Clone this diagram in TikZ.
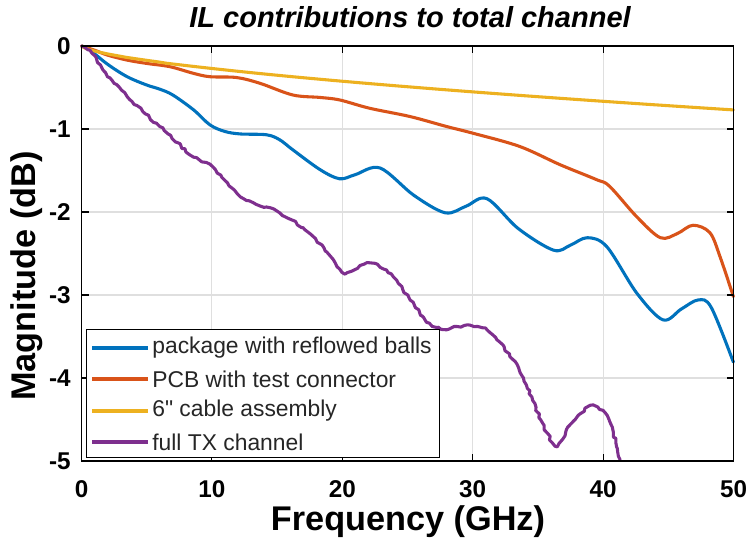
\documentclass[tikz,border=0pt]{standalone}
\usepackage{fontspec}
\setmainfont{Liberation Sans}
\newfontfamily\rawsans{Liberation Sans}
\usetikzlibrary{decorations.pathmorphing}
\definecolor{mblue}{RGB}{0,114,189}
\definecolor{morange}{RGB}{217,83,25}
\definecolor{myellow}{RGB}{237,177,32}
\definecolor{mpurple}{RGB}{126,47,142}
\definecolor{gridgray}{RGB}{223,223,223}
\definecolor{legtext}{RGB}{38,38,38}
\begin{document}
\begin{tikzpicture}[x=0.02cm,y=-0.02cm,
  curve/.style={line width=1.75pt, line join=round, line cap=round},
  ticklab/.style={font=\fontsize{13.8}{15}\selectfont\bfseries, text=black, inner sep=0pt},
  axlab/.style={font=\fontsize{19.5}{21}\selectfont\bfseries, text=black, inner sep=0pt},
  leglab/.style={font=\rawsans\fontsize{13}{15}\selectfont, text=legtext, anchor=west, inner sep=0pt},
  gridline/.style={draw=gridgray, line width=0.6pt},
  tickmark/.style={draw=black, line width=0.6pt}]
\useasboundingbox (0,0) rectangle (749,542);
\fill[white] (0,0) rectangle (749,542);
% grid
\foreach \i in {1,...,4} {
  \draw[gridline] ({81.5+130.4*\i},46) -- ({81.5+130.4*\i},461);
  \draw[gridline] (81.5,{46+83*\i}) -- (733.5,{46+83*\i});
}
% curves
\begin{scope}[shift={(81.5,46)},x=0.2608cm,y=1.66cm]
\clip (-0.4,0.08) rectangle (50.4,-5);
\draw[curve,mblue] plot[smooth,tension=0.55] coordinates {(0,0) (0.65,-0.05) (2,-0.22) (3.5,-0.37) (5,-0.47) (6,-0.52) (7,-0.59) (8.6,-0.77) (9.85,-0.95) (11,-1.03) (12.2,-1.06) (14.2,-1.07) (15.2,-1.13) (16.2,-1.25) (18.3,-1.49) (19.8,-1.60) (21,-1.55) (22.9,-1.47) (25.5,-1.8) (27.9,-2.01) (29.5,-1.93) (31.1,-1.84) (33.5,-2.2) (36.2,-2.46) (37.5,-2.4) (38.8,-2.31) (40.3,-2.42) (42.6,-2.98) (44.6,-3.30) (46,-3.17) (47.3,-3.06) (48.3,-3.15) (50,-3.81)};
\draw[curve,morange] plot[smooth,tension=0.55] coordinates {(0,0) (1,-0.05) (2,-0.11) (3.5,-0.17) (5,-0.21) (6.8,-0.25) (8.6,-0.33) (9.85,-0.37) (11.9,-0.38) (13.7,-0.45) (16.2,-0.59) (18.3,-0.62) (19.8,-0.65) (22.1,-0.75) (25.2,-0.85) (28,-0.97) (30,-1.05) (33.6,-1.21) (36.7,-1.43) (39.5,-1.61) (40.5,-1.69) (42.6,-2.06) (44.4,-2.31) (45.7,-2.26) (46.9,-2.16) (48.2,-2.25) (49,-2.55) (50,-3.02)};
\draw[curve,myellow] (0,0) -- plot[domain=0.25:50,samples=80] (\x,{-0.77*pow(\x/50,0.65)});
\pgfmathsetseed{7}
\draw[curve,mpurple,decorate,decoration={random steps,segment length=2pt,amplitude=0.7pt}] (0,0) -- (0.65,-0.05) -- (1.65,-0.29) -- (2.5,-0.45) -- (3.5,-0.61) -- (4.7,-0.79) -- (6.0,-0.97) -- (7.3,-1.16) -- (8.6,-1.34) -- (10.1,-1.46) -- (11.2,-1.65) -- (12.2,-1.82) -- (13.2,-1.89) -- (14.2,-1.94) -- (15.2,-2.01) -- (16.2,-2.1) -- (17.0,-2.19) -- (17.8,-2.3) -- (18.8,-2.48) -- (19.6,-2.66) -- (20.2,-2.75) -- (20.9,-2.70) -- (21.9,-2.61) -- (22.7,-2.63) -- (23.4,-2.70) -- (24.3,-2.86) -- (25.2,-3.06) -- (26.1,-3.25) -- (26.9,-3.38) -- (28,-3.42) -- (28.8,-3.38) -- (29.6,-3.36) -- (30.4,-3.38) -- (31.1,-3.42) -- (32.1,-3.57) -- (33.1,-3.78) -- (33.9,-4.0) -- (34.6,-4.27) -- (35.2,-4.50) -- (35.7,-4.66) -- (36.1,-4.78) -- (36.5,-4.83) -- (36.9,-4.74) -- (37.2,-4.62) -- (38.1,-4.45) -- (39.0,-4.33) -- (39.6,-4.35) -- (40,-4.39) -- (40.5,-4.52) -- (40.8,-4.66) -- (41.1,-4.85) -- (41.4,-5.1);
\end{scope}
% axes box and ticks
\draw[black, line width=0.6pt] (81.5,46) rectangle (733.5,461);
\foreach \i in {0,...,5} {
  \draw[tickmark] ({81.5+130.4*\i},461) -- ({81.5+130.4*\i},454);
  \draw[tickmark] ({81.5+130.4*\i},46) -- ({81.5+130.4*\i},53);
  \draw[tickmark] (81.5,{46+83*\i}) -- (88.5,{46+83*\i});
  \draw[tickmark] (733.5,{46+83*\i}) -- (726.5,{46+83*\i});
}
% tick labels
\foreach \i/\t in {0/0,1/10,2/20,3/30,4/40,5/50}
  \node[ticklab] (xt\i) at ({81.5+130.4*\i},489) {\t};
\foreach \i/\t in {0/0,1/-1,2/-2,3/-3,4/-4,5/-5}
  \node[ticklab, anchor=east] (yt\i) at (71,{46+83*\i}) {\t};
% axis labels and title
\node[axlab] (xlabel) at (408,522) {Frequency (GHz)};
\node[axlab, rotate=90] (ylabel) at (27,276) {Magnitude (dB)};
\node[font=\fontsize{16.5}{18}\selectfont\bfseries\itshape, inner sep=0pt] (title) at (410,17) {IL contributions to total channel};
% legend
\node[draw=black, line width=0.6pt, fill=white, anchor=north west, inner sep=0pt, minimum width=7.06cm, minimum height=2.56cm] (legbox) at (86,329) {};
\draw[curve,mblue,line cap=butt] (92,348) -- (148,348);
\draw[curve,morange,line cap=butt] (92,379) -- (148,379);
\draw[curve,myellow,line cap=butt] (92,411) -- (148,411);
\draw[curve,mpurple,line cap=butt] (92,442) -- (148,442);
\node[leglab] (l1) at (152,348) {package with reflowed balls};
\node[leglab] (l2) at (152,379) {PCB with test connector};
\node[leglab] (l3) at (152,411) {6" cable assembly};
\node[leglab] (l4) at (152,442) {full TX channel};
\end{tikzpicture}
\end{document}
